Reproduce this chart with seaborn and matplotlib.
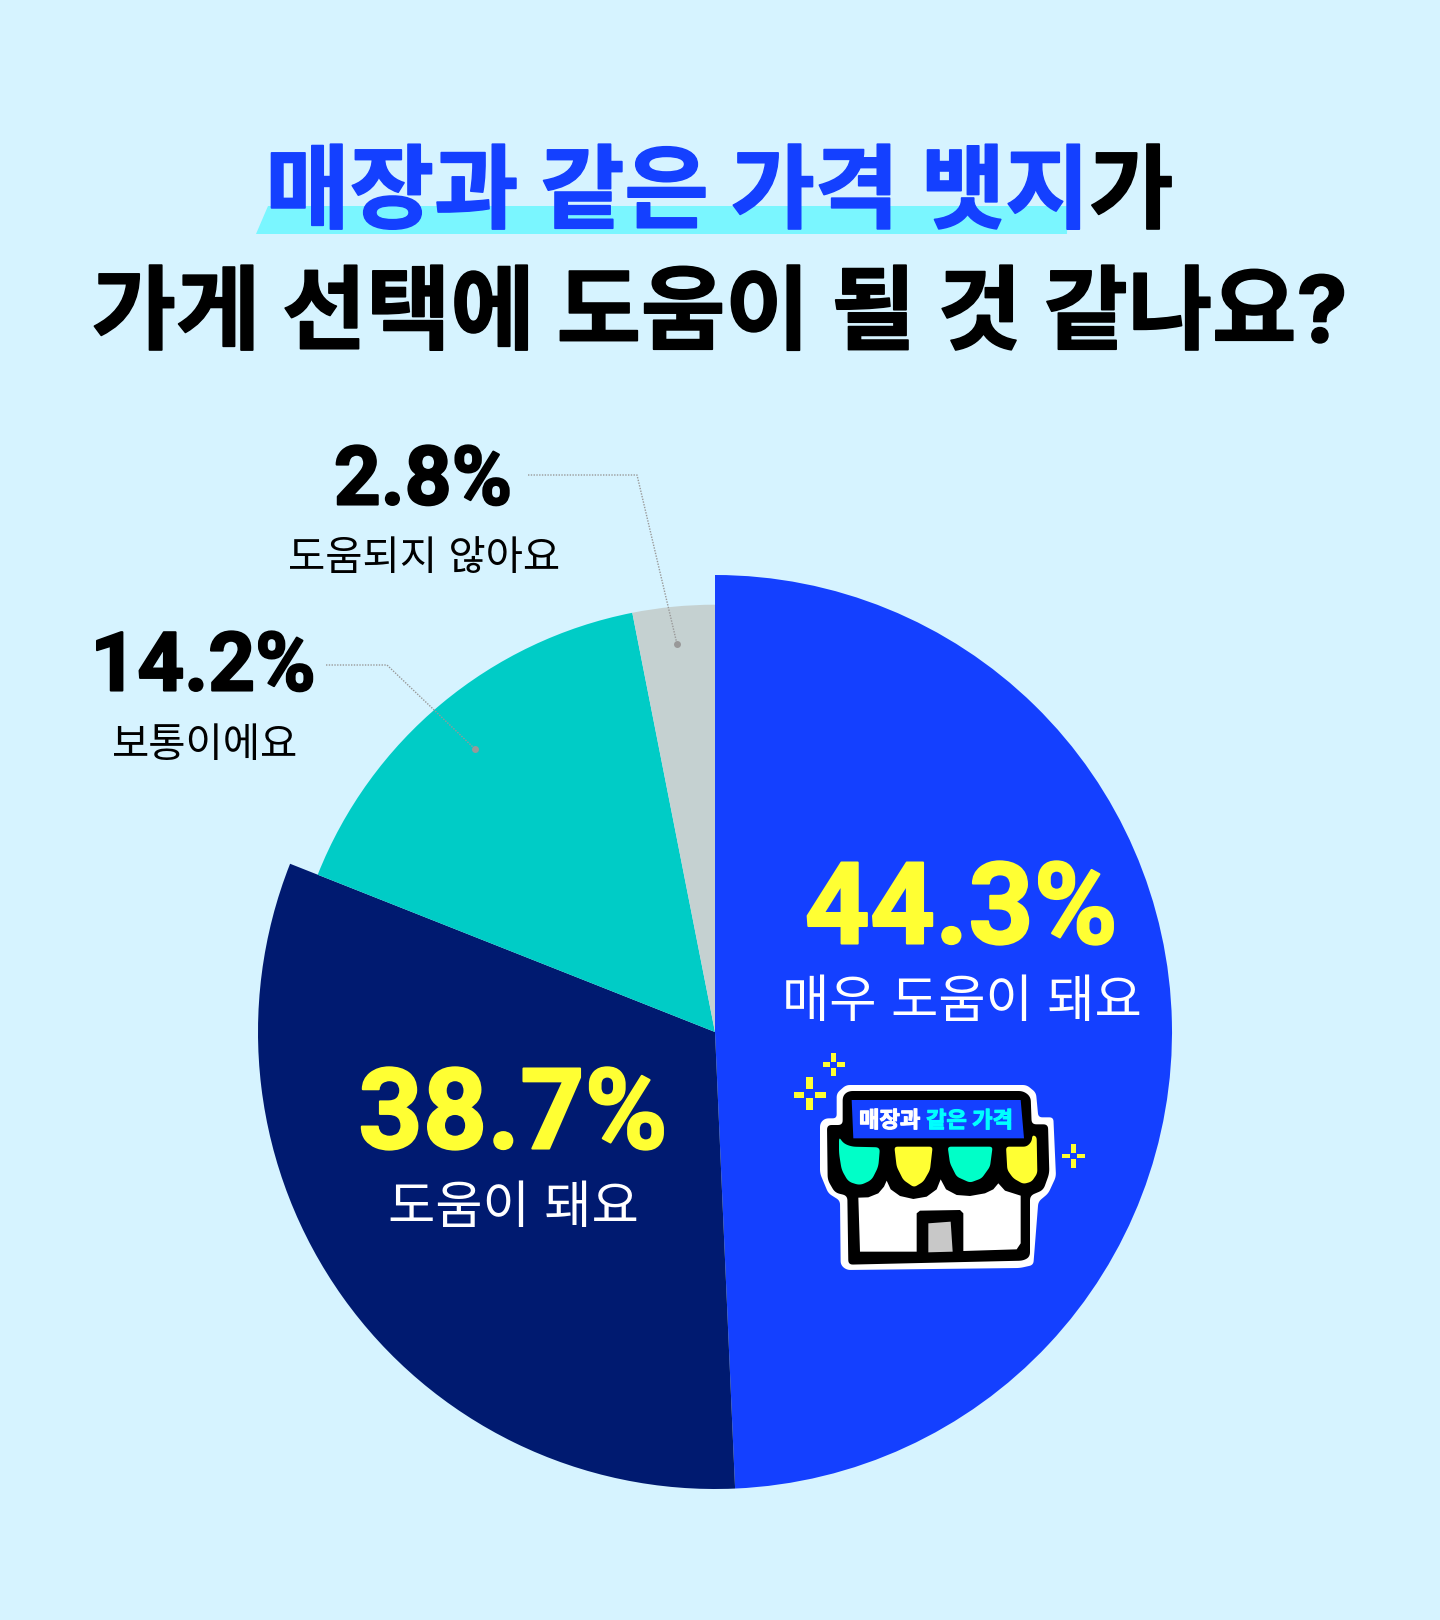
import matplotlib
matplotlib.use('Agg')
import matplotlib.pyplot as plt
import matplotlib.patheffects as pe
from matplotlib.patches import Polygon, Rectangle
import numpy as np
import seaborn as sns

sns.set_theme(style='white')
plt.rcParams['font.family'] = ['Inter', 'Noto Sans CJK KR', 'DejaVu Sans']

# answers and the numbers printed on the chart
categories = ['매우 도움이 돼요', '도움이 돼요', '보통이에요', '도움되지 않아요']
percent_labels = [44.3, 38.7, 14.2, 2.8]
# the slices in the original are not drawn to the printed numbers, these are read off the angles
slice_shares = [49.3, 31.7, 15.9, 3.1]
slice_radius = [1.0, 1.0, 0.935, 0.935]
slice_colors = sns.color_palette(['#1440FF', '#001A70', '#00CCC6', '#C5D1D1'])

BG = '#D6F3FF'
BLUE = '#1440FF'
YELLOW = '#FFFF33'
W, H = 1440, 1620
CX, CY, R = 715, 1032, 457

fig = plt.figure(figsize=(W / 100, H / 100), dpi=100, facecolor=BG)

# pixel canvas for texts and decoration
bg = fig.add_axes([0, 0, 1, 1])
bg.set_xlim(0, W)
bg.set_ylim(H, 0)
bg.axis('off')

# pie
ax = fig.add_axes([(CX - R) / W, 1 - (CY + R) / H, 2 * R / W, 2 * R / H])
wedges, _ = ax.pie(slice_shares, colors=slice_colors, startangle=90, counterclock=False, radius=1.0,
                   wedgeprops={'linewidth': 0})
for w, r in zip(wedges, slice_radius):
    w.set_radius(r)
ax.set_xlim(-1, 1)
ax.set_ylim(-1, 1)
ax.patch.set_alpha(0)

# top layer for things on top of the pie
top = fig.add_axes([0, 0, 1, 1])
top.set_xlim(0, W)
top.set_ylim(H, 0)
top.axis('off')
top.patch.set_alpha(0)

def thicker(color, lw):
    return [pe.withStroke(linewidth=lw, foreground=color)]

#==============================================================================
# TITLE
#==============================================================================
bg.add_patch(Polygon([(268, 206), (1068, 206), (1067, 234), (256, 234)], closed=True, color='#7AF6FF', lw=0))
bg.text(1090, 221, '매장과 같은 가격 뱃지', color=BLUE, fontsize=66, fontweight='bold', ha='right', va='baseline',
        path_effects=thicker(BLUE, 1.2))
bg.text(1089, 221, '가', color='black', fontsize=66, fontweight='bold', ha='left', va='baseline',
        path_effects=thicker('black', 1.2))
bg.text(720, 342, '가게 선택에 도움이 될 것 같나요?', color='black', fontsize=66, fontweight='bold',
        ha='center', va='baseline', path_effects=thicker('black', 1.2))

#==============================================================================
# LABELS
#==============================================================================
big_pos = [(961, 901), (513, 1106), (203, 660), (423, 474)]
sub_pos = [(962, 998), (513, 1204), (205, 742), (424, 555)]
big_size = [82, 81, 59, 59]
sub_size = [37, 37, 29.2, 29.2]
big_color = [YELLOW, YELLOW, 'black', 'black']
sub_color = ['white', 'white', 'black', 'black']

for i in range(4):
    top.text(*big_pos[i], f'{percent_labels[i]}%', color=big_color[i], fontsize=big_size[i], fontweight='bold',
             family=['Roboto', 'DejaVu Sans'], ha='center', va='center_baseline',
             path_effects=thicker(big_color[i], 1.5))
    top.text(*sub_pos[i], categories[i], color=sub_color[i], fontsize=sub_size[i], fontweight='regular',
             ha='center', va='center_baseline')

# leader lines
for pts in [[(528, 475), (637, 475), (677, 644)], [(326, 665), (387, 665), (475, 749)]]:
    top.plot([p[0] for p in pts], [p[1] for p in pts], color='#999999', lw=1, ls=(0, (1, 1)))
    top.plot(*pts[-1], 'o', color='#999999', ms=5, mew=0)

#==============================================================================
# SHOP ICON (coordinates taken from a 3x crop at 760,1030)
#==============================================================================
def round_corners(pts, d):
    pts = np.array(pts, dtype=float)
    out = []
    for i in range(len(pts)):
        p, a, b = pts[i], pts[i - 1], pts[(i + 1) % len(pts)]
        la, lb = np.linalg.norm(a - p), np.linalg.norm(b - p)
        p1 = p + (a - p) * min(d, la / 2) / la
        p2 = p + (b - p) * min(d, lb / 2) / lb
        for t in np.linspace(0, 1, 7):
            out.append((1 - t) ** 2 * p1 + 2 * t * (1 - t) * p + t ** 2 * p2)
    return out

def shape(pts, c, order=5, d=0):
    if d:
        pts = round_corners(pts, d)
    pts = [(760 + x / 3, 1030 + y / 3) for x, y in pts]
    top.add_patch(Polygon(pts, closed=True, color=c, lw=0, zorder=order))

shape([(230, 190), (258, 165), (800, 165), (828, 188), (835, 262), (880, 262), (888, 440), (865, 490), (835, 515),
       (820, 705), (780, 714), (260, 720), (242, 705), (240, 512), (205, 490), (180, 430), (180, 280), (195, 265),
       (230, 265)], 'white', 5, 12)
shape([(248, 198), (265, 183), (790, 183), (812, 200), (815, 283), (864, 283), (868, 430), (850, 480), (810, 497),
       (810, 680), (790, 692), (265, 704), (262, 497), (225, 488), (203, 450), (201, 285), (248, 285)], 'black', 6, 14)
shape([(295, 503), (325, 502), (355, 490), (372, 470), (380, 452), (392, 478), (420, 498), (460, 507), (500, 500),
       (530, 478), (542, 448), (558, 478), (590, 495), (630, 498), (675, 490), (700, 478), (715, 460), (735, 482),
       (782, 497), (782, 640), (770, 658), (610, 663), (610, 550), (600, 540), (480, 542), (470, 550), (470, 665),
       (300, 665)], 'white', 7)
shape([(275, 210), (782, 210), (792, 325), (280, 325)], BLUE, 8)
shape([(237, 320), (250, 340), (275, 350), (360, 352), (355, 410), (335, 450), (300, 466), (265, 455), (245, 420),
       (237, 370)], '#00FFC8', 8, 14)
shape([(403, 350), (518, 350), (510, 420), (490, 455), (462, 472), (430, 450), (410, 410)], YELLOW, 8, 10)
shape([(563, 350), (698, 350), (690, 410), (665, 445), (630, 458), (590, 440), (570, 400)], '#00FFC8', 8, 10)
shape([(817, 315), (830, 320), (832, 430), (815, 455), (790, 462), (760, 445), (742, 420), (738, 350), (800, 350),
       (815, 335)], YELLOW, 8, 10)
shape([(505, 580), (572, 575), (578, 665), (505, 667)], '#C8C8C8', 8)

top.text(859, 1119, '매장과', color='white', fontsize=16, fontweight='bold', ha='left', va='center_baseline',
         zorder=9, path_effects=thicker('white', 0.8))
top.text(926, 1119, '같은 가격', color='#00FFFF', fontsize=16, fontweight='bold', ha='left', va='center_baseline',
         zorder=9, path_effects=thicker('#00FFFF', 0.8))

# sparkles, as (left, right, top, bottom) in crop pixels
sparkles = [(213, 228, 68, 95), (213, 228, 113, 138), (188, 210, 97, 110), (232, 256, 97, 110),
            (138, 158, 142, 178), (138, 158, 205, 240), (102, 133, 185, 204), (165, 198, 185, 204),
            (932, 947, 342, 368), (932, 947, 388, 413), (906, 930, 372, 385), (952, 976, 372, 385)]
for l, r, t, b in sparkles:
    top.add_patch(Rectangle((760 + l / 3, 1030 + t / 3), (r - l) / 3, (b - t) / 3, color=YELLOW, lw=0))

fig.savefig('out.png', dpi=100, facecolor=BG)
